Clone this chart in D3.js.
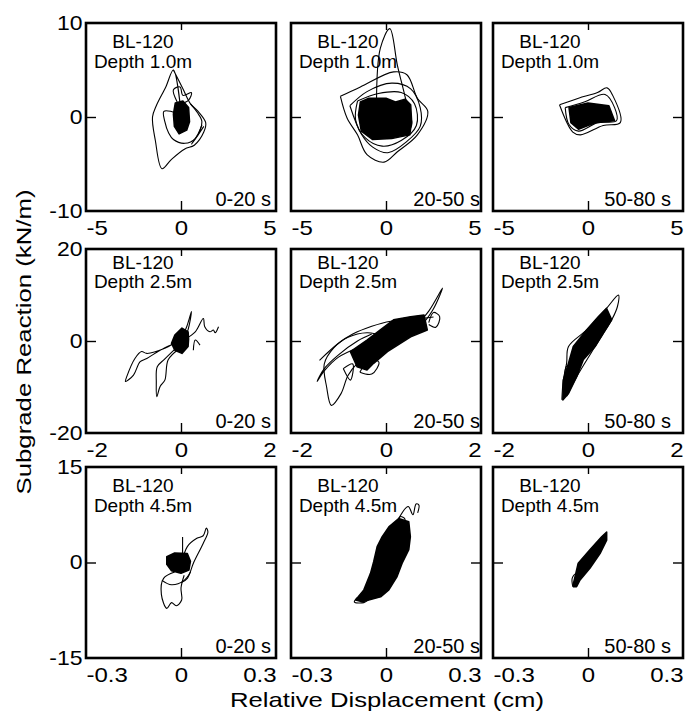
<!DOCTYPE html>
<html lang="en">
<head>
<meta charset="UTF-8">
<title>Subgrade reaction loops BL-120</title>
<script src="https://cdn.jsdelivr.net/npm/d3@7"></script>
<style>
  body { margin: 0; background: #fff; }
  svg text { font-family: "Liberation Sans", Arial, Helvetica, sans-serif; fill: #000; }
</style>
</head>
<body>
<svg width="689" height="715"></svg>
<script>
// labels and axes
const pileName = "BL-120";
const depths = ["Depth 1.0m", "Depth 2.5m", "Depth 4.5m"];
const windows = ["0-20 s", "20-50 s", "50-80 s"];
const xDomains = [[-5, 5], [-2, 2], [-0.3, 0.3]];
const yDomains = [[-10, 10], [-20, 20], [-15, 15]];
const xTicks = [[-5, 0, 5], [-2, 0, 2], [-0.3, 0, 0.3]];
const yTicks = [[-10, 0, 10], [-20, 0, 20], [-15, 0, 15]];
const xTitle = "Relative Displacement (cm)";
const yTitle = "Subgrade Reaction (kN/m)";

// traced loops, [displacement, reaction]; *Core = outline of the densely overdrawn part
const p11Lines = [
  [[0.0,0.5],[-0.4,5.0],[-0.8,3.2],[-1.3,1.2],[-1.5,0.0],[-1.35,-2.5],[-1.0,-5.5],[-0.5,-4.5],[0.2,-3.4],[0.7,-3.0],[1.2,-1.6],[1.3,-0.6],[0.9,0.6],[0.5,1.4],[0.1,3.0],[-0.4,5.0]],
  [[-0.2,0.4],[-0.9,0.6],[-0.85,-0.5],[-0.65,-1.7],[-0.4,-2.4],[0.2,-2.8],[0.75,-2.3],[1.1,-0.5],[0.85,0.5],[0.5,1.4]],
  [[-0.2,1.6],[-0.4,2.9],[-0.05,3.2],[0.1,2.3],[0.55,2.6],[0.4,1.8],[0.0,1.4]],
  [[1.1,-0.85],[0.9,-1.8],[0.55,-2.9],[0.8,-2.2],[1.2,-1.0]]
];
const p11Core = [[-0.3,1.5],[0.1,1.7],[0.4,1.0],[0.45,-0.5],[0.3,-1.4],[-0.1,-1.8],[-0.35,-1.0],[-0.4,0.3]];

const p12Lines = [
  [[-2.4,2.2],[-1.35,3.2],[0.4,4.8],[1.1,4.5],[1.65,2.0],[2.2,0.6],[1.65,-1.9],[0.6,-3.7],[-0.1,-4.8],[-1.0,-4.0],[-1.5,-1.9],[-2.05,-0.1],[-2.4,2.2]],
  [[-1.9,1.2],[-1.0,2.7],[0.3,3.6],[1.3,3.0],[1.8,1.0],[1.8,-1.0],[1.1,-2.6],[0.1,-3.8],[-0.7,-3.2],[-1.3,-1.8],[-1.9,1.2]],
  [[-1.5,1.7],[-0.4,2.5],[0.8,2.6],[1.5,1.4],[1.6,-0.9],[0.8,-2.5],[-0.2,-3.1],[-1.1,-2.2],[-1.6,-0.3],[-1.5,1.7]],
  [[-0.5,1.5],[-0.3,7.3],[0.2,9.4],[0.6,5.5],[1.0,2.2],[1.35,-0.9],[0.9,-2.0]]
];
const p12Core = [[-1.35,1.6],[-0.9,2.0],[0.0,2.0],[0.5,1.6],[1.0,1.9],[1.3,1.3],[1.35,-0.5],[1.25,-1.9],[0.3,-2.3],[-0.7,-2.4],[-1.3,-1.5],[-1.45,0.2]];

const p13Lines = [
  [[-1.5,1.3],[-0.5,2.0],[0.5,2.6],[1.0,3.1],[1.3,2.3],[1.7,-0.6],[0.8,-0.9],[-0.4,-1.9],[-0.8,-1.6],[-1.5,1.3]],
  [[-1.2,1.0],[-0.2,1.6],[0.9,2.4],[1.4,1.0],[1.5,-0.4],[0.5,-0.6],[-0.5,-1.5],[-1.0,-0.8],[-1.2,1.0]]
];
const p13Core = [[-1.0,1.0],[0.0,1.5],[1.1,1.2],[1.4,-0.4],[0.4,-0.6],[-0.5,-1.3],[-0.9,-0.6]];

const p21Lines = [
  [[-0.15,-0.5],[-0.34,-1.6],[-0.72,-2.7],[-0.83,-2.3],[-0.97,-3.8],[-1.14,-7.7],[-1.17,-8.8],[-1.0,-7.4],[-0.86,-4.5],[-0.72,-3.8],[-0.44,-2.0],[-0.2,-0.8]],
  [[-0.1,-1.5],[-0.35,-4.0],[-0.5,-5.6],[-0.52,-9.0],[-0.51,-12.1],[-0.44,-9.9],[-0.34,-8.5],[-0.27,-4.1],[-0.05,-1.8]],
  [[0.0,0.5],[0.12,3.1],[0.22,6.4],[0.15,2.5],[0.05,0.0]],
  [[0.1,0.5],[0.3,2.0],[0.47,4.9],[0.5,3.1],[0.61,2.0],[0.68,2.4],[0.72,1.8],[0.79,3.1]],
  [[0.26,-2.0],[0.3,0.2],[0.4,-0.9]]
];
const p21Core = [[0.02,2.8],[0.15,2.0],[0.16,0.4],[0.15,-1.2],[0.02,-2.7],[-0.13,-2.0],[-0.2,-0.5],[-0.13,1.3]];

const p22Lines = [
  [[-0.6,-1.5],[-1.0,-3.5],[-1.3,-6.5],[-1.45,-8.8],[-1.3,-6.0],[-1.0,-3.0],[-0.6,0.0],[-0.3,1.5]],
  [[0.0,1.0],[-0.4,1.8],[-0.8,0.8],[-1.1,-1.5],[-1.3,-5.0],[-1.25,-10.0],[-1.15,-14.0],[-0.95,-11.5],[-0.8,-7.5],[-0.6,-4.8],[-0.3,-2.5]],
  [[-1.4,-4.2],[-1.0,-0.5],[-0.7,1.5],[-0.3,3.2],[0.1,4.3],[0.7,4.8],[1.0,5.2]],
  [[0.6,3.0],[0.9,6.5],[1.19,11.5],[1.0,7.0],[0.8,4.0]],
  [[0.9,4.0],[1.0,6.2],[1.13,5.3],[1.05,3.0],[0.9,3.6]],
  [[-0.55,-6.8],[-0.35,-4.0],[-0.15,-4.6],[-0.3,-7.2],[-0.55,-6.8]],
  [[-0.9,-6.0],[-0.7,-5.0],[-0.75,-8.5],[-0.9,-6.0]]
];
const p22Core = [[-0.75,-2.3],[-0.4,0.2],[-0.12,2.4],[0.16,4.6],[0.52,5.3],[0.8,5.65],[0.87,2.4],[0.52,0.9],[0.03,-2.3],[-0.26,-4.85],[-0.4,-6.3],[-0.61,-5.6]];

const p23Lines = [
  [[-0.55,-12.8],[-0.52,-8.5],[-0.45,-4.8],[-0.41,-1.2],[-0.03,2.4],[0.39,7.1],[0.64,10.0],[0.62,7.5],[0.5,4.6],[0.15,-1.2],[-0.24,-7.8],[-0.45,-12.0]],
  [[-0.5,-9.5],[-0.45,-5.5],[-0.35,-6.0],[-0.42,-10.0]]
];
const p23Core = [[-0.53,-12.8],[-0.52,-8.5],[-0.41,-4.8],[-0.31,-1.2],[-0.03,2.4],[0.22,5.3],[0.39,7.1],[0.5,4.6],[0.32,1.7],[0.15,-1.2],[-0.1,-4.1],[-0.24,-7.8],[-0.41,-11.4]];

const p31Lines = [
  [[0.0,-0.5],[0.02,2.5],[0.05,3.8],[0.07,4.2],[0.08,5.4],[0.085,4.8],[0.07,3.0],[0.04,0.0],[0.02,-2.5],[0.0,-3.2]],
  [[-0.02,-1.5],[-0.055,-2.5],[-0.062,-5.0],[-0.045,-7.2],[-0.03,-6.3],[-0.015,-6.8],[0.002,-5.9],[0.0,-4.0],[0.01,-2.0]],
  [[-0.06,-2.8],[-0.03,-3.5],[0.01,-2.8],[0.03,-1.5]],
  [[0.005,0.5],[0.005,4.0]]
];
const p31Core = [[-0.045,0.9],[-0.02,1.5],[0.02,1.4],[0.03,0.2],[0.025,-1.2],[0.0,-1.7],[-0.03,-1.3],[-0.045,-0.3]];

const p32Lines = [
  [[0.04,6.9],[0.07,8.8],[0.085,7.5],[0.095,9.2],[0.104,9.0],[0.1,7.8]],
  [[0.03,5.5],[0.045,7.2],[0.06,6.8],[0.05,5.8]],
  [[-0.09,-5.5],[-0.1,-6.2],[-0.07,-6.3],[-0.05,-5.6]]
];
const p32Core = [[-0.096,-5.9],[-0.07,-4.3],[-0.049,-1.7],[-0.039,0.13],[-0.028,2.5],[-0.012,4.05],[0.009,5.6],[0.04,6.9],[0.072,6.4],[0.077,4.05],[0.072,2.0],[0.051,-0.1],[0.035,-2.2],[0.009,-4.3],[-0.017,-5.4],[-0.075,-6.15]];

const p33Lines = [
  [[-0.048,-3.8],[-0.05,-2.5],[-0.04,-1.8],[-0.03,-3.0],[-0.048,-3.8]]
];
const p33Core = [[-0.046,-3.3],[-0.031,-0.1],[0.006,2.0],[0.043,4.05],[0.059,4.8],[0.059,3.5],[0.038,1.4],[0.006,-0.9],[-0.025,-2.75],[-0.036,-3.8],[-0.046,-3.8]];

const panelLines = [[p11Lines, p12Lines, p13Lines], [p21Lines, p22Lines, p23Lines], [p31Lines, p32Lines, p33Lines]];
const panelCores = [[p11Core, p12Core, p13Core], [p21Core, p22Core, p23Core], [p31Core, p32Core, p33Core]];

// layout
const svg = d3.select("svg");
const colX = [86, 291, 493];
const colW = 190;
const rowY = [23, 249, 467];
const rowH = [188, 184, 191];
const labelDy = [[25, 45], [20, 39], [25, 45]];
const timeDx = [5, 1, 12];

for (let r = 0; r < 3; r++) {
  for (let c = 0; c < 3; c++) {
    const x0 = colX[c], y0 = rowY[r], h = rowH[r];
    const x = d3.scaleLinear().domain(xDomains[r]).range([x0, x0 + colW]);
    const y = d3.scaleLinear().domain(yDomains[r]).range([y0 + h, y0]);
    const g = svg.append("g");

    const line = d3.line().x(d => x(d[0])).y(d => y(d[1])).curve(d3.curveCatmullRom);
    const closed = d3.line().x(d => x(d[0])).y(d => y(d[1])).curve(d3.curveLinearClosed);

    g.selectAll("path.loop")
      .data(panelLines[r][c])
      .join("path")
      .attr("class", "loop")
      .attr("d", line)
      .attr("fill", "none")
      .attr("stroke", "#000")
      .attr("stroke-width", 1.1)
      .attr("stroke-linejoin", "round");

    g.append("path")
      .attr("d", closed(panelCores[r][c]))
      .attr("fill", "#000")
      .attr("stroke", "#000")
      .attr("stroke-width", 1.5)
      .attr("stroke-linejoin", "round");

    // frame
    g.append("rect")
      .attr("x", x0).attr("y", y0)
      .attr("width", colW).attr("height", h)
      .attr("fill", "none")
      .attr("stroke", "#000")
      .attr("stroke-width", 2.6);

    // inward ticks at zero
    const tickStyle = sel => {
      sel.select(".domain").remove();
      sel.selectAll("line").attr("stroke", "#000").attr("stroke-width", 1.4);
    };
    g.append("g").attr("transform", `translate(0,${y0 + h})`)
      .call(d3.axisBottom(x).tickValues([0]).tickSize(-10).tickFormat("")).call(tickStyle);
    g.append("g").attr("transform", `translate(0,${y0})`)
      .call(d3.axisTop(x).tickValues([0]).tickSize(-7).tickFormat("")).call(tickStyle);
    g.append("g").attr("transform", `translate(${x0},0)`)
      .call(d3.axisLeft(y).tickValues([0]).tickSize(-10).tickFormat("")).call(tickStyle);
    g.append("g").attr("transform", `translate(${x0 + colW},0)`)
      .call(d3.axisRight(y).tickValues([0]).tickSize(-10).tickFormat("")).call(tickStyle);

    // tick labels
    const xl = g.append("g").attr("transform", `translate(0,${y0 + h})`)
      .call(d3.axisBottom(x).tickValues(xTicks[r]).tickSize(0).tickPadding(10).tickFormat(d => String(d)));
    xl.select(".domain").remove();
    xl.selectAll("text")
      .attr("font-size", 20)
      .attr("font-family", null)
      .attr("text-anchor", (d, i) => i === 0 ? "start" : (i === 2 ? "end" : "middle"))
      .attr("transform", "scale(1.2,1)");

    if (c === 0) {
      const yl = g.append("g").attr("transform", `translate(${x0},0)`)
        .call(d3.axisLeft(y).tickValues(yTicks[r]).tickSize(0).tickPadding(3).tickFormat(d => String(d)));
      yl.select(".domain").remove();
      yl.selectAll("text")
        .attr("font-size", 20)
        .attr("font-family", null)
        .attr("transform", "scale(1.15,1)");
    }

    // panel texts
    g.append("text")
      .attr("x", x0 + 57).attr("y", y0 + labelDy[r][0])
      .attr("text-anchor", "middle").attr("font-size", 19)
      .text(pileName);
    g.append("text")
      .attr("x", x0 + 57).attr("y", y0 + labelDy[r][1])
      .attr("text-anchor", "middle").attr("font-size", 19)
      .text(depths[r]);
    g.append("text")
      .attr("x", x0 + colW - timeDx[c]).attr("y", y0 + h - 5)
      .attr("text-anchor", "end").attr("font-size", 20)
      .text(windows[c]);
  }
}

// axis titles
svg.append("text")
  .attr("x", 387).attr("y", 707)
  .attr("text-anchor", "middle").attr("font-size", 21)
  .attr("textLength", 314).attr("lengthAdjust", "spacingAndGlyphs")
  .text(xTitle);
svg.append("text")
  .attr("transform", "translate(31,342) rotate(-90)")
  .attr("text-anchor", "middle").attr("font-size", 21)
  .attr("textLength", 305).attr("lengthAdjust", "spacingAndGlyphs")
  .text(yTitle);
</script>
</body>
</html>
